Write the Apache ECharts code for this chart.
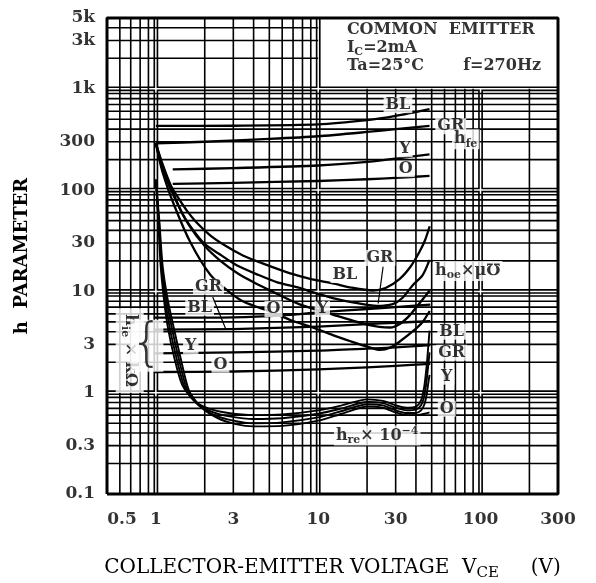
<!DOCTYPE html>
<html>
<head>
<meta charset="utf-8">
<script src="https://cdn.jsdelivr.net/npm/echarts@6/dist/echarts.min.js"></script>
<style>html,body{margin:0;padding:0;background:#fff}#c{width:596px;height:583px}</style>
</head>
<body>
<div id="c"></div>
<script>
// ---------- axes ----------
const X_MIN = 0.5, X_MAX = 300, Y_MIN = 0.1, Y_MAX = 5000;
const xTickValues = [0.5, 1, 3, 10, 30, 100, 300];
const xTickLabels = ['0.5', '1', '3', '10', '30', '100', '300'];
const yTickValues = [0.1, 0.3, 1, 3, 10, 30, 100, 300, 1000, 3000, 5000];
const yTickLabels = ['0.1', '0.3', '1', '3', '10', '30', '100', '300', '1k', '3k', '5k'];
const xGridMinor = [0.6, 0.7, 0.8, 0.9, 2, 3, 4, 5, 6, 7, 8, 9, 20, 30, 40, 50, 60, 70, 80, 90, 200];
const xGridMajor = [1, 10, 100];
const yGridMinor = [0.2, 0.3, 0.4, 0.5, 0.6, 0.7, 0.8, 0.9, 2, 3, 4, 5, 6, 7, 8, 9,
  20, 30, 40, 50, 60, 70, 80, 90, 200, 300, 400, 500, 600, 700, 800, 900, 2000, 3000, 4000];
const yGridMajor = [1, 10, 100, 1000];

// ---------- h_fe ----------
const hfeBL = [[1, 430], [3, 432], [10, 445], [20, 490], [30, 540], [48.5, 630]];
const hfeGR = [[1, 290], [2, 300], [5, 320], [10, 340], [20, 375], [30, 400], [48.5, 430]];
const hfeY  = [[1.27, 160], [3, 165], [10, 175], [20, 190], [30, 205], [48.5, 225]];
const hfeO  = [[1.27, 115], [3, 118], [10, 123], [20, 128], [30, 132], [48.5, 138]];

// ---------- h_oe x uS ----------
const hoeBL = [[1, 290], [1.1, 180], [1.24, 110], [1.4, 80], [1.56, 62], [1.8, 47], [2.17, 35.5], [2.7, 28],
  [3.46, 22.5], [4.5, 19], [5.6, 16.7], [7, 14.8], [8.9, 13.3], [12.3, 12], [16, 10.9], [21.7, 10.2],
  [26, 10.8], [31.8, 13.3], [37, 17.5], [42, 24.5], [45.5, 32], [48.6, 44]];
const hoeGR = [[1, 290], [1.1, 170], [1.2, 120], [1.48, 55.6], [1.97, 30], [2.5, 23], [3.17, 18], [4.3, 14.5],
  [5.6, 12.3], [7.76, 10.8], [8.9, 10], [12.3, 8.6], [17, 7.7], [23, 7.2], [28.8, 7.5], [33, 8.6],
  [38, 11.4], [44, 14.5], [48.5, 20.5]];
const hoeY  = [[1, 290], [1.1, 160], [1.3, 85], [1.6, 45], [2, 28], [2.5, 20], [3.2, 15], [4, 12.3],
  [5, 10.3], [7.76, 7.4], [12.3, 5.9], [20, 4.7], [27.7, 4.4], [32, 4.8], [36.6, 5.8], [42, 7.6], [48.6, 10.2]];
const hoeO  = [[1, 290], [1.1, 150], [1.3, 70], [1.64, 30], [2.17, 14.5], [2.8, 10], [3.48, 7.9], [5.08, 6.3],
  [7, 5.1], [8.9, 4.5], [12.3, 3.7], [16, 3.2], [20, 2.85], [24, 2.65], [28, 2.8], [31.8, 3.2],
  [38, 4.0], [44, 5.0], [48.6, 6.4]];

// ---------- h_ie x kOhm ----------
const hieBL = [[0.97, 5.5], [3, 5.55], [6, 5.8], [10, 6.2], [20, 6.7], [30, 7.0], [49, 7.4]];
const hieGR = [[0.97, 4.2], [3, 4.25], [10, 4.5], [20, 4.75], [30, 4.9], [49, 5.1]];
const hieY  = [[0.97, 2.45], [3, 2.5], [10, 2.6], [20, 2.72], [30, 2.8], [49, 2.95]];
const hieO  = [[0.97, 1.6], [3, 1.62], [10, 1.7], [20, 1.78], [30, 1.84], [49, 1.93]];

// ---------- h_re x 10^-4 ----------
const hreBL = [[1, 128], [1.035, 50], [1.07, 18], [1.12, 8.5], [1.18, 4.6], [1.3, 2.2], [1.45, 1.2], [1.7, 0.85],
  [2.1, 0.7], [2.8, 0.63], [4, 0.6], [6, 0.61], [10, 0.67], [14, 0.75], [20, 0.86], [25, 0.83], [30, 0.75],
  [35, 0.71], [40, 0.73], [43, 0.84], [45, 1.15], [46.5, 1.8], [47.5, 2.7], [48.5, 4.1]];
const hreGR = [[1, 126], [1.04, 50], [1.08, 18], [1.14, 8.5], [1.21, 4.6], [1.34, 2.2], [1.5, 1.15], [1.76, 0.8],
  [2.2, 0.65], [2.9, 0.58], [4, 0.55], [6, 0.56], [10, 0.62], [14, 0.7], [20, 0.81], [25, 0.79], [30, 0.71],
  [35, 0.67], [40, 0.68], [43, 0.75], [45, 0.93], [46.5, 1.3], [47.5, 1.8], [48.5, 2.5]];
const hreY  = [[1, 124], [1.045, 50], [1.09, 18], [1.16, 8.5], [1.245, 4.6], [1.38, 2.2], [1.55, 1.1], [1.82, 0.76],
  [2.3, 0.6], [3, 0.53], [4, 0.5], [6, 0.51], [10, 0.57], [14, 0.66], [20, 0.77], [25, 0.75], [30, 0.67],
  [35, 0.63], [40, 0.63], [43, 0.67], [45, 0.76], [46.5, 0.95], [47.5, 1.2], [48.5, 1.5]];
const hreO  = [[1, 122], [1.05, 50], [1.1, 18], [1.18, 8.5], [1.28, 4.6], [1.42, 2.2], [1.6, 1.05], [1.9, 0.72],
  [2.4, 0.56], [3.1, 0.49], [4, 0.465], [6, 0.47], [10, 0.53], [14, 0.62], [20, 0.73], [25, 0.71], [30, 0.64],
  [35, 0.6], [40, 0.6], [43, 0.61], [45, 0.62], [48.5, 0.64]];

// ---------- leader lines ----------
const leaderHieGR = [[2.24, 8.8], [2.69, 4.27]];
const leaderHoeGR = [[25.1, 17.5], [23.4, 7.6]];

// ---------- texts (anchor in data coordinates) ----------
const curveLabels = [
  ['BL', 31, 690], ['GR', 65.5, 427], ['Y', 34.2, 253], ['O', 34.6, 161], ['h{s|fe}', 81, 318],
  ['BL', 14.6, 14.5], ['GR', 24, 21.4], ['Y', 10.6, 6.7], ['O', 5.3, 6.7],
  ['GR', 2.11, 11.1], ['BL', 1.86, 6.9], ['Y', 1.64, 2.9], ['O', 2.5, 1.89],
  ['BL', 66.4, 4.0], ['GR', 66.4, 2.48], ['Y', 61.9, 1.44], ['O', 61.9, 0.695]
];
const leftTexts = [
  ['h{s|oe}×μ℧', 51, 15.9],
  ['h{s|re}× 10{p|−4}', 12.5, 0.377],
  ['COMMON  EMITTER', 14.6, 3850],
  ['I{s|C}=2mA', 14.6, 2560],
  ['Ta=25°C', 14.6, 1700],
  ['f=270Hz', 76, 1700]
];
const hieTitle = ['h{s|ie} × kΩ', 0.69, 2.6];
const braceAt = [0.88, 2.9];

const SERIF = "'DejaVu Serif', serif";
const rich = {
  s: { fontFamily: SERIF, fontSize: 11, fontWeight: 'bold', padding: [9, 0, 0, 0] },
  p: { fontFamily: SERIF, fontSize: 11, fontWeight: 'bold', padding: [0, 0, 9, 0] }
};

const series = [];
function gridLine(data, width, color, z) {
  series.push({ type: 'line', data, symbol: 'none', silent: true, z, animation: false,
    lineStyle: { color, width }, clip: false });
}
// decade lines drawn as double lines
xGridMajor.forEach(v => { const top = v > 10 ? 1000 : Y_MAX;
  gridLine([[v, Y_MIN], [v, top]], 4.8, '#000', 1); gridLine([[v, Y_MIN], [v, top]], 1.5, '#fff', 2); });
yGridMajor.forEach(v => {
  gridLine([[X_MIN, v], [X_MAX, v]], 4.8, '#000', 1); gridLine([[X_MIN, v], [X_MAX, v]], 1.5, '#fff', 2); });
xGridMinor.forEach(v => gridLine([[v, Y_MIN], [v, v > 10 ? 1000 : Y_MAX]], 1.6, '#000', 3));
yGridMinor.forEach(v => gridLine([[X_MIN, v], [v > 1000 ? 10 : X_MAX, v]], 1.6, '#000', 3));
// frame
gridLine([[X_MIN, Y_MIN], [X_MAX, Y_MIN], [X_MAX, Y_MAX], [X_MIN, Y_MAX], [X_MIN, Y_MIN]], 3, '#000', 4);

function curve(data, w) {
  series.push({ type: 'line', data, symbol: 'none', silent: true, z: 5, animation: false,
    smooth: 0.25, lineStyle: { color: '#000', width: w, join: 'round' } });
}
[hfeBL, hfeGR, hfeY, hfeO, hoeBL, hoeGR, hoeY, hoeO, hieBL, hieGR, hieY, hieO].forEach(d => curve(d, 2.3));
[hreBL, hreGR, hreY, hreO].forEach(d => curve(d, 1.9));
[leaderHieGR, leaderHoeGR].forEach(d => series.push({ type: 'line', data: d, symbol: 'none', silent: true,
  z: 7, animation: false, lineStyle: { color: '#000', width: 1.2 } }));

function textSeries(items, labelOpt, z) {
  series.push({ type: 'scatter', symbolSize: 0, silent: true, animation: false, clip: false, z,
    data: items.map(t => ({ value: [t[1], t[2]], label: { formatter: t[0] } })),
    label: Object.assign({ show: true, color: '#000', fontFamily: SERIF, rich }, labelOpt) });
}
textSeries(curveLabels, { position: 'inside', fontSize: 16, fontWeight: 'bold',
  backgroundColor: '#fff', padding: [0, 2, 0, 2] }, 6);
textSeries(leftTexts, { position: 'right', distance: 0, fontSize: 16, fontWeight: 'bold',
  backgroundColor: '#fff', padding: [0, 2, 0, 2] }, 6);
textSeries([hieTitle], { position: 'inside', fontSize: 16, fontWeight: 'bold', rotate: -90,
  backgroundColor: '#fff', padding: [4, 6, 4, 6] }, 6);
textSeries([['{', braceAt[0], braceAt[1]]], { position: 'inside', fontSize: 52, fontWeight: 200,
  fontFamily: "'DejaVu Sans', sans-serif", backgroundColor: '#fff', padding: [0, 0, 0, 0] }, 6);

// tick labels
series.push({ type: 'scatter', symbolSize: 0, silent: true, animation: false, clip: false, z: 6,
  data: xTickValues.map((v, i) => ({ value: [v, Y_MIN], label: { formatter: xTickLabels[i],
    offset: i === 0 ? [15, 0] : [0, 0] } })),
  label: { show: true, position: 'bottom', distance: 17, color: '#000', fontFamily: SERIF, fontSize: 17, fontWeight: 'bold' } });
series.push({ type: 'scatter', symbolSize: 0, silent: true, animation: false, clip: false, z: 6,
  data: yTickValues.map((v, i) => ({ value: [X_MIN, v], label: { formatter: yTickLabels[i] } })),
  label: { show: true, position: 'left', distance: 12, color: '#000', fontFamily: SERIF, fontSize: 17, fontWeight: 'bold' } });

const chart = echarts.init(document.getElementById('c'));
chart.setOption({
  backgroundColor: '#fff',
  animation: false,
  grid: { left: 107, right: 38, top: 18, bottom: 89, containLabel: false, outerBoundsMode: 'none' },
  xAxis: { type: 'log', logBase: 10, min: X_MIN, max: X_MAX,
    axisLabel: { show: false }, axisTick: { show: false }, splitLine: { show: false }, axisLine: { show: false },
    name: 'COLLECTOR-EMITTER VOLTAGE  V{s|CE}     (V)', nameLocation: 'middle', nameGap: 60,
    nameTextStyle: { fontFamily: SERIF, fontSize: 20, fontWeight: 'normal', color: '#000', align: 'center', rich: {
      s: { fontFamily: SERIF, fontSize: 15, padding: [12, 0, 0, 0] } } } },
  yAxis: { type: 'log', logBase: 10, min: Y_MIN, max: Y_MAX,
    axisLabel: { show: false }, axisTick: { show: false }, splitLine: { show: false }, axisLine: { show: false },
    name: 'h  PARAMETER', nameLocation: 'middle', nameGap: 76, nameRotate: 90,
    nameTextStyle: { fontFamily: SERIF, fontSize: 18, fontWeight: 'bold', color: '#000' } },
  series
});
</script>
</body>
</html>
